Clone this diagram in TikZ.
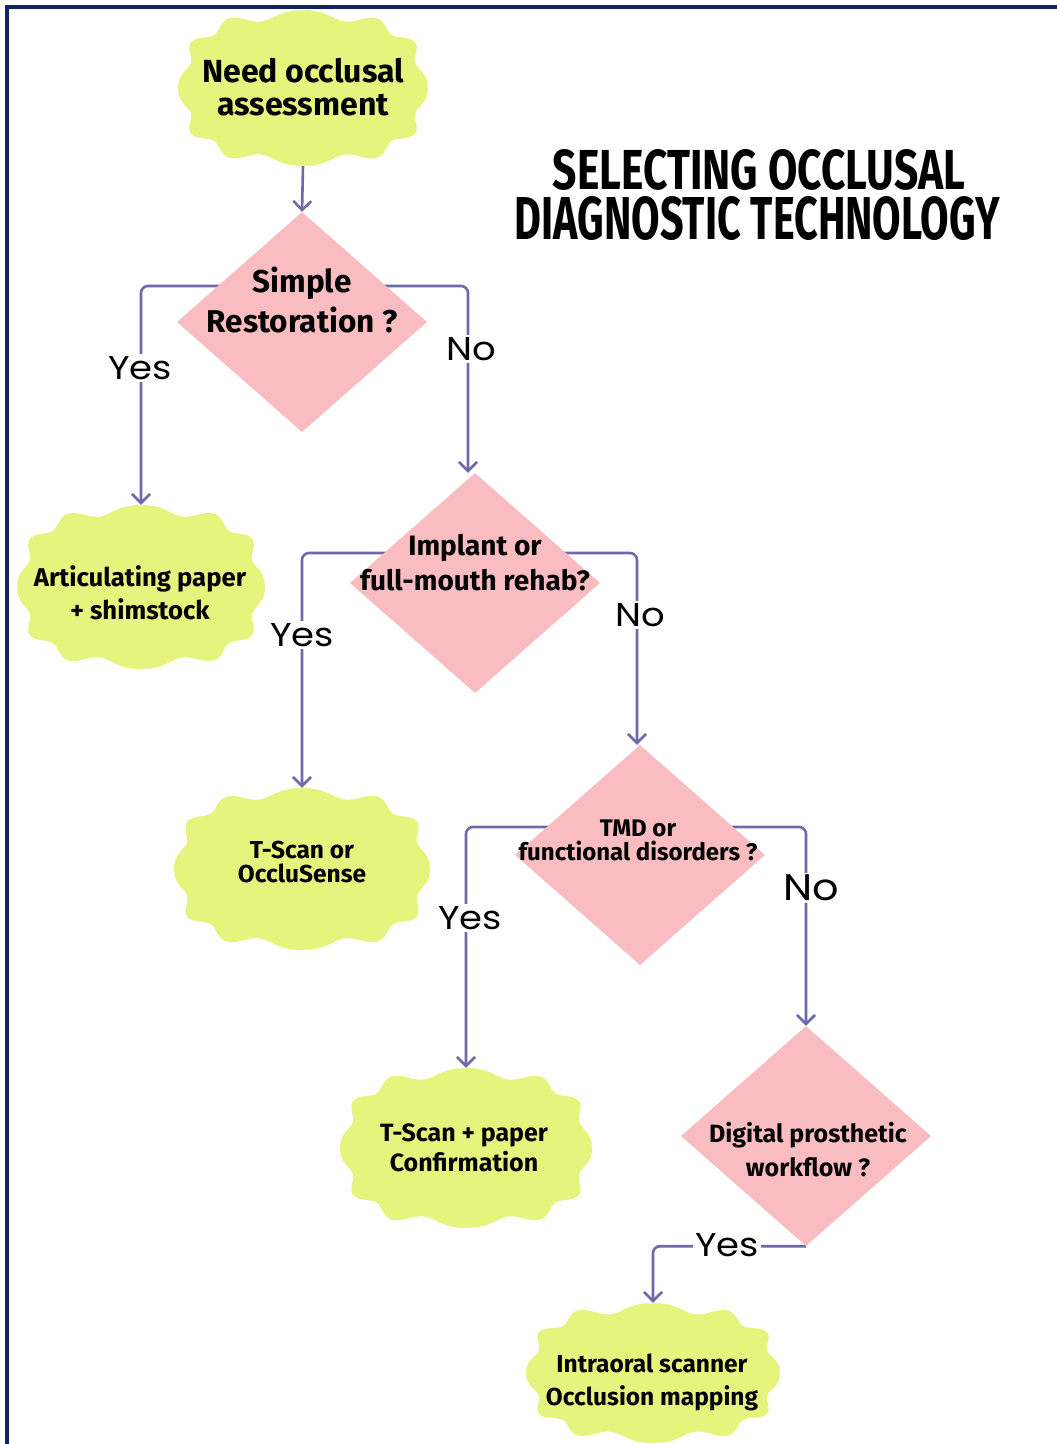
\documentclass[tikz,border=0pt]{standalone}
\usepackage{fontspec}
\usetikzlibrary{shapes.geometric,arrows.meta,calc}
\newfontfamily\cf{Fira Sans}
\newfontfamily\lf{Poppins}[FakeStretch=1.12]
\newfontfamily\tf{Fira Sans}
\definecolor{navyline}{RGB}{14,36,102}
\definecolor{conncol}{RGB}{110,105,170}
\definecolor{diafill}{RGB}{249,188,192}
\definecolor{cloudfill}{RGB}{228,244,125}
\pgfdeclarelayer{bg}
\pgfdeclarelayer{cloudlayer}
\pgfdeclarelayer{connlayer}
\pgfsetlayers{bg,cloudlayer,connlayer,main}
\tikzset{
  dia/.style={diamond, fill=diafill, minimum width=250pt, minimum height=220pt, inner sep=0pt},
  ctext/.style={align=center, inner sep=0pt, text=black},
  conn/.style={draw=conncol, line width=2.6pt, rounded corners=7pt, -{Straight Barb[length=9pt,width=18pt]}},
  lab/.style={fill=white, inner sep=2pt, text=black, font=\lf\fontsize{33}{36}\selectfont},
}
% name, cx, cy, half width, half height
\newcommand\cloudat[5]{%
  \begin{pgfonlayer}{cloudlayer}
    \fill[cloudfill] plot[domain=1:361,samples=121,variable=\t]
      ({#2+(#4-5)*sign(cos(\t))*abs(cos(\t))^0.75+5*cos(12*\t)*cos(\t)},
       {#3+(#5-5)*sign(sin(\t))*abs(sin(\t))^0.75+5*cos(12*\t)*sin(\t)}) -- cycle;
  \end{pgfonlayer}
  \node[minimum width=#4*2pt, minimum height=#5*2pt, inner sep=0pt] (#1) at (#2,#3) {};%
}
\begin{document}
\begin{tikzpicture}[x=1pt,y=-1pt]
\useasboundingbox (0,0) rectangle (1057,1444);
\begin{pgfonlayer}{bg}
  \fill[white] (0,0) rectangle (1057,1444);
\end{pgfonlayer}
\draw[navyline, line width=4pt] (7,1444) -- (7,7) -- (1057,7);

% title
\node[inner sep=0pt] (t1) at (759,170) {\resizebox{412pt}{40pt}{\tf\bfseries SELECTING OCCLUSAL}};
\node[inner sep=0pt] (t2) at (757,218.5) {\resizebox{485pt}{43pt}{\tf\bfseries DIAGNOSTIC TECHNOLOGY}};

% clouds
\cloudat{c1}{303}{88}{125}{78}
\cloudat{c2}{141}{587}{124}{82}
\cloudat{c3}{302}{869}{128}{81}
\cloudat{c4}{466}{1148}{126}{80}
\cloudat{c5}{653}{1373}{127}{70}

\node[ctext, font=\cf\bfseries\fontsize{32}{33}\selectfont] (c1t) at (303,87) {Need occlusal\\assessment};
\node[ctext, font=\cf\bfseries\fontsize{25.7}{33}\selectfont] (c2t) at (140,593) {Articulating paper\\+ shimstock};
\node[ctext, font=\cf\bfseries\fontsize{24.5}{24}\selectfont] (c3t) at (302,862) {T-Scan or\\OccluSense};
\node[ctext, font=\cf\bfseries\fontsize{25}{30}\selectfont] (c4t) at (464,1148) {T-Scan + paper\\Confirmation};
\node[ctext, font=\cf\bfseries\fontsize{24.5}{33}\selectfont] (c5t) at (652,1382) {Intraoral scanner\\Occlusion mapping};

% diamonds
\node[dia] (d1) at (302,322) {};
\node[dia] (d2) at (475,583) {};
\node[dia] (d3) at (640,855) {};
\node[dia] (d4) at (806,1136) {};

\node[ctext, font=\cf\bfseries\fontsize{31.5}{40}\selectfont] (d1t) at (302,300) {Simple\\Restoration ?};
\node[ctext, font=\cf\bfseries\fontsize{28}{35}\selectfont] (d2t) at (475,563) {Implant or\\full-mouth rehab?};
\node[ctext, font=\cf\bfseries\fontsize{24}{24}\selectfont] (d3t) at (638,840) {TMD or\\functional disorders ?};
\node[ctext, font=\cf\bfseries\fontsize{25}{34}\selectfont] (d4t) at (808,1150) {Digital prosthetic\\workflow ?};

% connectors
\begin{pgfonlayer}{connlayer}
  \draw[conn] (c1.south) -- (d1.north);
  \draw[conn] ([yshift=36pt]d1.center) -| (c2.north);
  \draw[conn] ([yshift=36pt]d1.center) -| ([xshift=-7pt]d2.north);
  \draw[conn] ([yshift=30pt]d2.center) -| (c3.north);
  \draw[conn] ([yshift=30pt]d2.center) -| ([xshift=-3pt]d3.north);
  \draw[conn] ([yshift=28pt]d3.center) -| (c4.north);
  \draw[conn] ([yshift=28pt]d3.center) -| (d4.north);
  \draw[conn] (d4.south) -| (c5.north);
\end{pgfonlayer}

% labels
\node[lab] (y1) at (140,368) {Yes};
\node[lab] (n1) at (471,349) {No};
\node[lab] (y2) at (302,635) {Yes};
\node[lab] (n2) at (640,615) {No};
\node[lab] (y3) at (470,918) {Yes};
\node[lab, font=\lf\fontsize{37}{40}\selectfont] (n3) at (811,888) {No};
\node[lab] (y4) at (727,1245) {Yes};
\end{tikzpicture}
\end{document}
